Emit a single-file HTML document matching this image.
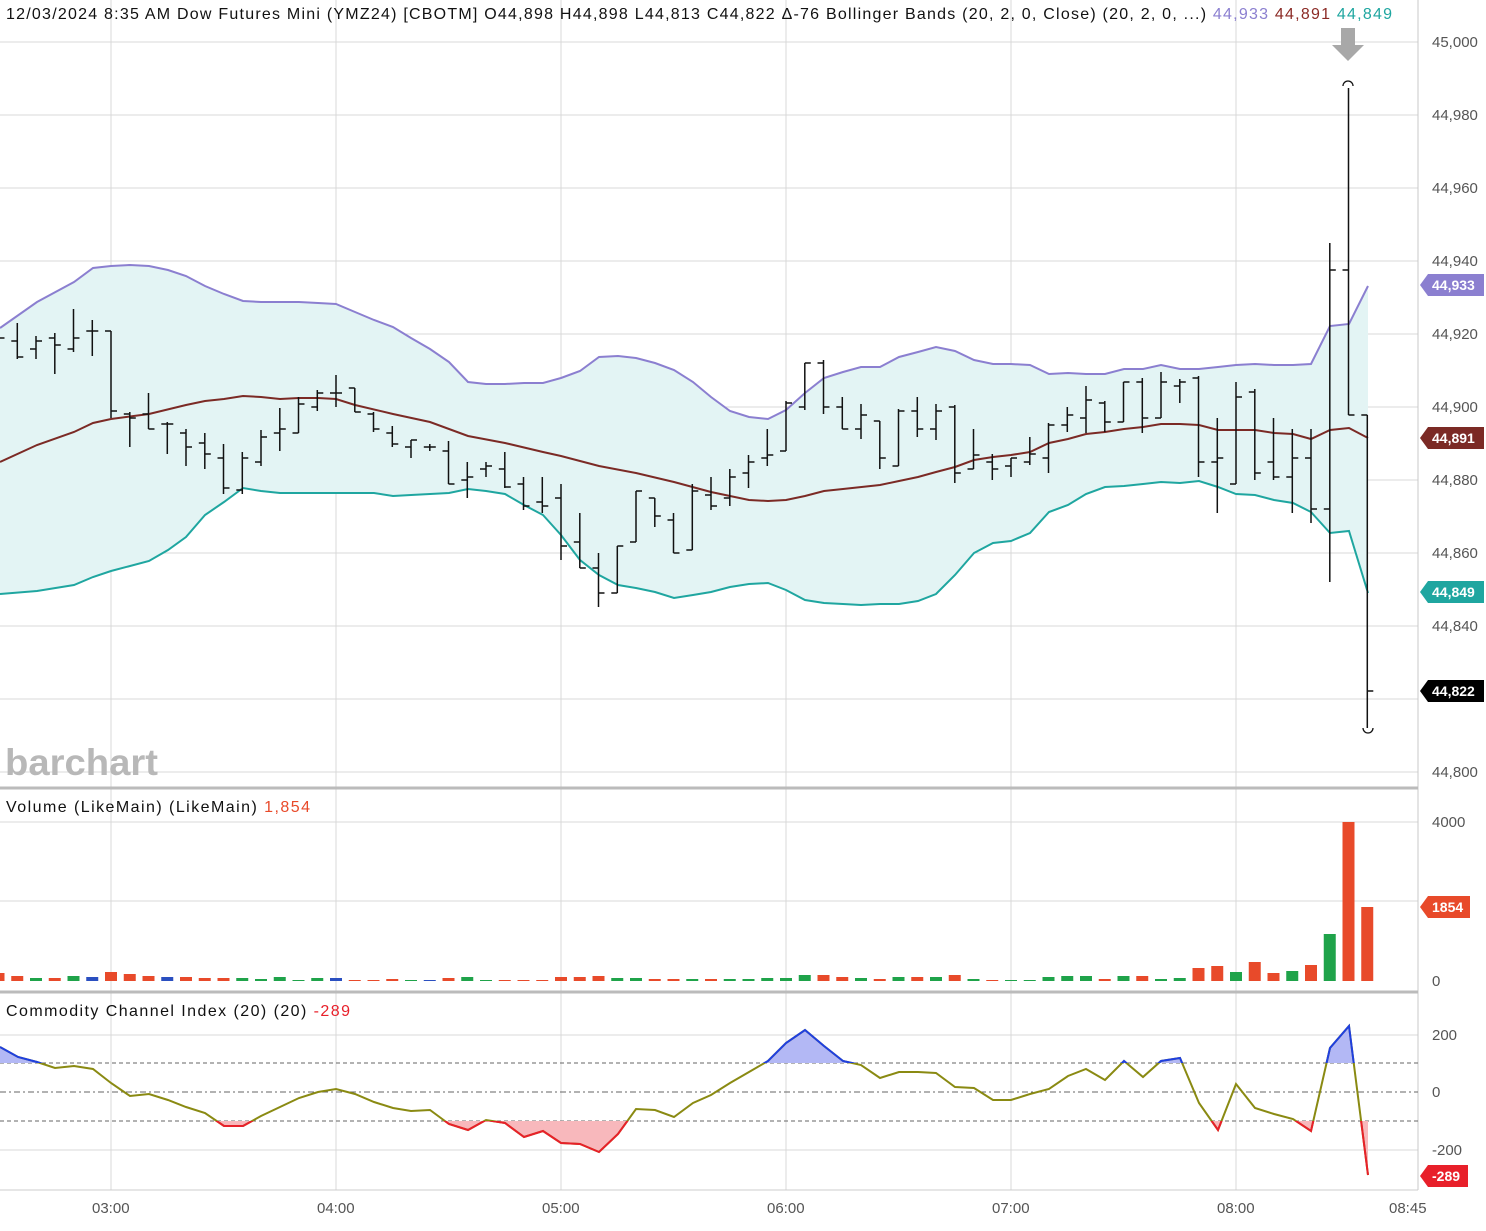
<!DOCTYPE html>
<html><head><meta charset="utf-8"><style>
html,body{margin:0;padding:0;background:#fff;}
body{width:1486px;height:1226px;overflow:hidden;font-family:"Liberation Sans",sans-serif;}
svg text{font-family:"Liberation Sans",sans-serif;}
</style></head><body>
<svg id="s" width="1486" height="1226" xmlns="http://www.w3.org/2000/svg">
<defs>
<clipPath id="cAbove"><rect x="0" y="990" width="1418" height="73"/></clipPath>
<clipPath id="cBelow"><rect x="0" y="1121" width="1418" height="70"/></clipPath>
</defs>
<g stroke="#d8d8d8" stroke-width="1">
<line x1="0" y1="42" x2="1418" y2="42"/><line x1="0" y1="115" x2="1418" y2="115"/><line x1="0" y1="188" x2="1418" y2="188"/><line x1="0" y1="261" x2="1418" y2="261"/><line x1="0" y1="334" x2="1418" y2="334"/><line x1="0" y1="407" x2="1418" y2="407"/><line x1="0" y1="480" x2="1418" y2="480"/><line x1="0" y1="553" x2="1418" y2="553"/><line x1="0" y1="626" x2="1418" y2="626"/><line x1="0" y1="699" x2="1418" y2="699"/><line x1="0" y1="772" x2="1418" y2="772"/>
<line x1="0" y1="822" x2="1418" y2="822"/><line x1="0" y1="901" x2="1418" y2="901"/>
<line x1="0" y1="1035" x2="1418" y2="1035"/><line x1="0" y1="1150" x2="1418" y2="1150"/>
<line x1="111" y1="0" x2="111" y2="1190"/><line x1="336" y1="0" x2="336" y2="1190"/><line x1="561" y1="0" x2="561" y2="1190"/><line x1="786" y1="0" x2="786" y2="1190"/><line x1="1011" y1="0" x2="1011" y2="1190"/><line x1="1236" y1="0" x2="1236" y2="1190"/>
</g>
<line x1="1418" y1="0" x2="1418" y2="1190" stroke="#c8c8c8"/>
<line x1="0" y1="788" x2="1418" y2="788" stroke="#bbb" stroke-width="3"/>
<line x1="0" y1="992" x2="1418" y2="992" stroke="#bbb" stroke-width="3"/>
<line x1="0" y1="1190" x2="1418" y2="1190" stroke="#ccc"/>

<polygon fill="#e3f4f4" points="0,328 37,302 74,282 93,268 111,266 130,265 149,266 168,270 186,276 205,286 224,294 243,301 261,302 280,302 299,302 318,303 336,304 355,312 374,320 393,327 411,338 430,349 449,362 468,382 486,384 505,384 524,383 543,383 561,378 580,371 599,357 618,356 636,358 655,363 674,370 693,382 711,397 730,411 749,417 768,419 786,410 805,393 824,378 843,372 861,367 880,367 899,357 918,352 936,347 955,351 974,360 993,364 1011,364 1030,365 1049,374 1068,373 1086,374 1105,374 1124,369 1143,369 1161,365 1180,369 1199,369 1218,367 1236,365 1255,364 1274,365 1293,365 1311,364 1330,326 1349,324 1368,286 1368,593 1349,531 1330,533 1311,512 1293,503 1274,500 1255,495 1236,494 1218,487 1199,481 1180,483 1161,482 1143,484 1124,486 1105,487 1086,494 1068,505 1049,512 1030,533 1011,541 993,543 974,553 955,575 936,594 918,601 899,604 880,604 861,605 843,604 824,603 805,600 786,590 768,583 749,584 730,587 711,592 693,595 674,598 655,592 636,588 618,585 599,575 580,560 561,535 543,515 524,505 505,494 486,491 468,489 449,493 430,494 411,495 393,496 374,493 355,493 336,493 318,493 299,493 280,493 261,491 243,488 224,502 205,515 186,537 168,550 149,561 111,571 93,577 74,585 37,591 0,594"/>
<polyline fill="none" stroke="#8b7fd0" stroke-width="2" points="0,328 37,302 74,282 93,268 111,266 130,265 149,266 168,270 186,276 205,286 224,294 243,301 261,302 280,302 299,302 318,303 336,304 355,312 374,320 393,327 411,338 430,349 449,362 468,382 486,384 505,384 524,383 543,383 561,378 580,371 599,357 618,356 636,358 655,363 674,370 693,382 711,397 730,411 749,417 768,419 786,410 805,393 824,378 843,372 861,367 880,367 899,357 918,352 936,347 955,351 974,360 993,364 1011,364 1030,365 1049,374 1068,373 1086,374 1105,374 1124,369 1143,369 1161,365 1180,369 1199,369 1218,367 1236,365 1255,364 1274,365 1293,365 1311,364 1330,326 1349,324 1368,286"/>
<polyline fill="none" stroke="#7b2a25" stroke-width="2" points="0,462 37,445 74,432 93,423 111,419 149,414 186,405 205,401 224,399 243,396 261,397 280,399 299,398 318,398 336,399 355,405 393,414 430,422 468,436 505,443 543,452 561,456 599,466 636,473 674,482 711,492 749,500 768,501 786,500 805,496 824,491 843,489 880,485 899,481 918,477 936,472 955,467 974,460 993,457 1011,455 1030,452 1049,443 1068,439 1086,434 1105,432 1124,429 1143,427 1161,424 1180,424 1199,425 1218,430 1236,430 1255,430 1274,433 1293,434 1311,439 1330,430 1349,428 1368,438"/>
<polyline fill="none" stroke="#1fa6a0" stroke-width="2" points="0,594 37,591 74,585 93,577 111,571 149,561 168,550 186,537 205,515 224,502 243,488 261,491 280,493 299,493 318,493 336,493 355,493 374,493 393,496 411,495 430,494 449,493 468,489 486,491 505,494 524,505 543,515 561,535 580,560 599,575 618,585 636,588 655,592 674,598 693,595 711,592 730,587 749,584 768,583 786,590 805,600 824,603 843,604 861,605 880,604 899,604 918,601 936,594 955,575 974,553 993,543 1011,541 1030,533 1049,512 1068,505 1086,494 1105,487 1124,486 1143,484 1161,482 1180,483 1199,481 1218,487 1236,494 1255,495 1274,500 1293,503 1311,512 1330,533 1349,531 1368,593"/>
<g id="bars" stroke="#111" stroke-width="1.5" fill="none"></g>
<g id="vol"></g>
<path d="M1341 28h14v17h9l-16 16l-16-16h9z" fill="#a8a8a8"/>
<path d="M1343 86a5 5 0 0 1 10 0" fill="none" stroke="#111" stroke-width="1.3"/>
<path d="M1363 728a5 5 0 0 0 10 0" fill="none" stroke="#111" stroke-width="1.3"/>

<line x1="0" y1="1063" x2="1418" y2="1063" stroke="#666" stroke-dasharray="4,3"/>
<line x1="0" y1="1121" x2="1418" y2="1121" stroke="#666" stroke-dasharray="4,3"/>
<line x1="0" y1="1092" x2="1418" y2="1092" stroke="#666" stroke-dasharray="6,3,2,3"/>
<polygon clip-path="url(#cAbove)" fill="#b3b8f5" points="0,1063 0,1047 18,1057 37,1062 55,1068 74,1066 93,1069 111,1083 130,1096 149,1094 168,1100 186,1107 205,1113 224,1126 243,1126 261,1116 280,1107 299,1098 318,1092 336,1089 355,1094 374,1102 393,1108 411,1111 430,1110 449,1124 468,1130 486,1120 505,1123 524,1137 543,1131 561,1143 580,1144 599,1152 618,1134 636,1109 655,1110 674,1117 693,1103 711,1095 730,1083 749,1072 768,1061 786,1043 805,1030 824,1046 843,1061 861,1065 880,1078 899,1072 918,1072 936,1073 955,1087 974,1088 993,1100 1011,1100 1030,1094 1049,1089 1068,1076 1086,1069 1105,1080 1124,1061 1143,1077 1161,1061 1180,1058 1199,1103 1218,1130 1236,1084 1255,1108 1274,1114 1293,1119 1311,1131 1330,1048 1349,1026 1368,1175 1368,1063"/>
<polygon clip-path="url(#cBelow)" fill="#f8b8bc" points="0,1121 0,1047 18,1057 37,1062 55,1068 74,1066 93,1069 111,1083 130,1096 149,1094 168,1100 186,1107 205,1113 224,1126 243,1126 261,1116 280,1107 299,1098 318,1092 336,1089 355,1094 374,1102 393,1108 411,1111 430,1110 449,1124 468,1130 486,1120 505,1123 524,1137 543,1131 561,1143 580,1144 599,1152 618,1134 636,1109 655,1110 674,1117 693,1103 711,1095 730,1083 749,1072 768,1061 786,1043 805,1030 824,1046 843,1061 861,1065 880,1078 899,1072 918,1072 936,1073 955,1087 974,1088 993,1100 1011,1100 1030,1094 1049,1089 1068,1076 1086,1069 1105,1080 1124,1061 1143,1077 1161,1061 1180,1058 1199,1103 1218,1130 1236,1084 1255,1108 1274,1114 1293,1119 1311,1131 1330,1048 1349,1026 1368,1175 1368,1121"/>
<polyline fill="none" stroke="#8a8a12" stroke-width="2" points="0,1047 18,1057 37,1062 55,1068 74,1066 93,1069 111,1083 130,1096 149,1094 168,1100 186,1107 205,1113 224,1126 243,1126 261,1116 280,1107 299,1098 318,1092 336,1089 355,1094 374,1102 393,1108 411,1111 430,1110 449,1124 468,1130 486,1120 505,1123 524,1137 543,1131 561,1143 580,1144 599,1152 618,1134 636,1109 655,1110 674,1117 693,1103 711,1095 730,1083 749,1072 768,1061 786,1043 805,1030 824,1046 843,1061 861,1065 880,1078 899,1072 918,1072 936,1073 955,1087 974,1088 993,1100 1011,1100 1030,1094 1049,1089 1068,1076 1086,1069 1105,1080 1124,1061 1143,1077 1161,1061 1180,1058 1199,1103 1218,1130 1236,1084 1255,1108 1274,1114 1293,1119 1311,1131 1330,1048 1349,1026 1368,1175"/>
<g clip-path="url(#cAbove)"><polyline fill="none" stroke="#1f3fe0" stroke-width="2" points="0,1047 18,1057 37,1062 55,1068 749,1072 768,1061 786,1043 805,1030 824,1046 843,1061 861,1065 1105,1080 1124,1061 1143,1077 1161,1061 1180,1058 1199,1103 1311,1131 1330,1048 1349,1026 1368,1175"/></g>
<g clip-path="url(#cBelow)"><polyline fill="none" stroke="#e8202a" stroke-width="2" points="205,1113 224,1126 243,1126 261,1116 430,1110 449,1124 468,1130 486,1120 505,1123 524,1137 543,1131 561,1143 580,1144 599,1152 618,1134 636,1109 1180,1058 1199,1103 1218,1130 1236,1084 1293,1119 1311,1131 1330,1048 1349,1026 1368,1175"/></g>

<text x="5" y="775" font-size="37" font-weight="bold" fill="#b8b8b8" textLength="153" lengthAdjust="spacingAndGlyphs">barchart</text>

<g font-size="16" fill="#111">
<text x="6" y="19" textLength="1386" lengthAdjust="spacing">12/03/2024 8:35 AM  Dow Futures Mini (YMZ24) [CBOTM]  O44,898  H44,898  L44,813  C44,822  Δ-76  Bollinger Bands (20, 2, 0, Close)  (20, 2, 0, ...) <tspan fill="#8b7fd0">44,933</tspan> <tspan fill="#8b2a25">44,891</tspan> <tspan fill="#1fa6a0">44,849</tspan></text>
<text x="6" y="812" textLength="304" lengthAdjust="spacing">Volume (LikeMain)  (LikeMain) <tspan fill="#e84a2a">1,854</tspan></text>
<text x="6" y="1016" textLength="344" lengthAdjust="spacing">Commodity Channel Index (20)  (20) <tspan fill="#e8202a">-289</tspan></text>
</g>
<g font-size="15" fill="#555">
<text x="1432" y="47">45,000</text><text x="1432" y="120">44,980</text><text x="1432" y="193">44,960</text><text x="1432" y="266">44,940</text><text x="1432" y="339">44,920</text><text x="1432" y="412">44,900</text><text x="1432" y="485">44,880</text><text x="1432" y="558">44,860</text><text x="1432" y="631">44,840</text><text x="1432" y="777">44,800</text>
<text x="1432" y="827">4000</text><text x="1432" y="986">0</text>
<text x="1432" y="1040">200</text><text x="1432" y="1097">0</text><text x="1432" y="1155">-200</text>
<text x="92" y="1213">03:00</text><text x="317" y="1213">04:00</text><text x="542" y="1213">05:00</text><text x="767" y="1213">06:00</text><text x="992" y="1213">07:00</text><text x="1217" y="1213">08:00</text><text x="1389" y="1213">08:45</text>
</g>
<g font-size="14" font-weight="bold" fill="#fff">
<path d="M1420 285l8-11h56v22h-56z" fill="#8b7fd0"/><text x="1432" y="290">44,933</text>
<path d="M1420 438l8-11h56v22h-56z" fill="#7b2a25"/><text x="1432" y="443">44,891</text>
<path d="M1420 592l8-11h56v22h-56z" fill="#1fa6a0"/><text x="1432" y="597">44,849</text>
<path d="M1420 691l8-11h56v22h-56z" fill="#000"/><text x="1432" y="696">44,822</text>
<path d="M1420 907l8-11h42v22h-42z" fill="#e84a2a"/><text x="1432" y="912">1854</text>
<path d="M1420 1176l8-11h40v22h-40z" fill="#e8202a"/><text x="1432" y="1181">-289</text>
</g>
</svg>
<script>
var B=[[338,330,345,338],[341,323,359,357],[349,336,359,341],[338,333,374,345],[349,309,352,338],[331,320,356,331],[331,331,418,411],[414,412,447,418],[414,393,429,429],[424,422,454,424],[433,429,466,447],[443,433,469,454],[458,444,494,488],[490,452,494,458],[462,430,466,437],[433,408,451,429],[433,397,433,404],[407,390,411,393],[393,375,407,393],[388,388,412,412],[414,412,432,429],[433,426,447,444],[447,440,458,440],[447,444,451,447],[451,441,484,484],[480,462,498,477],[469,462,477,466],[469,452,488,487],[484,477,510,506],[502,477,513,506],[498,484,560,546],[542,513,568,568],[568,553,607,593],[593,546,593,546],[542,491,542,491],[498,498,527,516],[520,513,553,553],[550,484,550,491],[495,477,510,506],[498,469,506,477],[473,455,488,462],[458,429,466,455],[451,401,451,403],[407,363,410,363],[363,360,414,407],[407,397,429,429],[429,404,439,415],[421,421,469,458],[466,409,466,411],[411,397,437,429],[429,404,440,411],[407,405,483,473],[469,429,469,455],[462,454,480,469],[466,458,477,458],[462,437,465,454],[458,423,473,425],[425,407,432,415],[418,386,433,400],[403,401,432,422],[422,382,422,382],[382,378,433,418],[418,372,418,382],[386,379,403,382],[378,376,477,462],[462,418,513,458],[484,382,484,397],[392,389,480,473],[462,418,480,477],[477,429,513,458],[458,429,523,509],[509,243,582,270],[270,88,415,415],[415,415,728,691]];
var V=[[8,'r'],[5,'r'],[3,'g'],[3,'r'],[5,'g'],[4,'b'],[9,'r'],[7,'r'],[5,'r'],[4,'b'],[4,'r'],[3,'r'],[3,'r'],[3,'g'],[2,'g'],[4,'g'],[1,'g'],[3,'g'],[3,'b'],[1,'r'],[1,'r'],[2,'r'],[1,'g'],[1,'b'],[3,'r'],[4,'g'],[1,'g'],[1,'r'],[1,'r'],[1,'r'],[4,'r'],[4,'r'],[5,'r'],[3,'g'],[3,'g'],[2,'r'],[2,'r'],[2,'g'],[2,'r'],[2,'g'],[2,'g'],[3,'g'],[3,'g'],[6,'g'],[6,'r'],[4,'r'],[3,'g'],[2,'r'],[4,'g'],[4,'r'],[4,'g'],[6,'r'],[2,'g'],[1,'r'],[1,'g'],[1,'g'],[4,'g'],[5,'g'],[5,'g'],[2,'r'],[5,'g'],[5,'r'],[2,'g'],[3,'g'],[13,'r'],[15,'r'],[9,'g'],[19,'r'],[8,'r'],[10,'g'],[16,'r'],[47,'g'],[159,'r'],[74,'r']];
var C={r:'#e84a2a',g:'#1fa34a',b:'#2a4fc0'};
var d='';
B.forEach(function(b,i){var x=(111-18.75*(6-i)).toFixed(1);d+='M'+x+' '+b[1]+'V'+b[2]+'M'+(x-6)+' '+b[0]+'H'+x+'M'+x+' '+b[3]+'H'+(+x+6);});
var ns='http://www.w3.org/2000/svg';
var p=document.createElementNS(ns,'path');p.setAttribute('d',d);document.getElementById('bars').appendChild(p);
var g=document.getElementById('vol');
V.forEach(function(v,i){var x=111-18.75*(6-i);var r=document.createElementNS(ns,'rect');r.setAttribute('x',x-6);r.setAttribute('y',981-v[0]);r.setAttribute('width',12);r.setAttribute('height',v[0]);r.setAttribute('fill',C[v[1]]);g.appendChild(r);});
</script>
</body></html>
